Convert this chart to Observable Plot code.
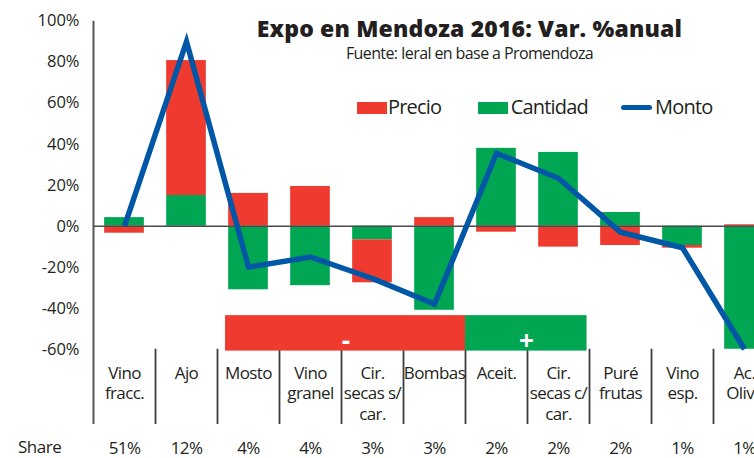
<!DOCTYPE html>
<html><head><meta charset="utf-8">
<script src="https://cdn.jsdelivr.net/npm/d3@7"></script>
<script src="https://cdn.jsdelivr.net/npm/@observablehq/plot@0.6"></script>
<style>
html,body{margin:0;padding:0;background:#fff;overflow:hidden;}
#wrap{position:relative;width:754px;height:458px;overflow:hidden;font-family:"Open Sans",sans-serif;color:#231f20;}
#wrap svg{overflow:hidden;position:absolute;left:0;top:0;}
#wrap svg text{letter-spacing:-0.6px;}
#wrap svg g[aria-label="y-axis tick label"] text{letter-spacing:0;}
.ov{position:absolute;line-height:1;white-space:nowrap;}
.sw{position:absolute;}
</style></head><body>
<div id="wrap"></div>
<script>
// ---- data ----
const categories = ["Vino\nfracc.", "Ajo", "Mosto", "Vino\ngranel", "Cir.\nsecas s/\ncar.", "Bombas", "Aceit.", "Cir.\nsecas c/\ncar.", "Puré\nfrutas", "Vino\nesp.", "Ac.\nOliva"];
const cantidad = [4.2, 15, -31, -29, -6.6, -41, 38, 36, 6.7, -9.4, -60];
const precio   = [-3.4, 65.8, 16, 19.4, -21, 4.2, -2.9, -10.2, -9.4, -1.3, 0.7];
const monto    = [0, 90, -20, -15, -25.5, -38, 35.6, 23.4, -2.9, -10.5, -60];
const share    = ["51%", "12%", "4%", "4%", "3%", "3%", "2%", "2%", "2%", "1%", "1%"];
const yTicks   = [-60, -40, -20, 0, 20, 40, 60, 80, 100];
const signFrom = ["Mosto", "Aceit."];
const signTo   = ["Bombas", "Cir.\nsecas c/\ncar."];
const signText = ["-", "+"];

const RED = "#EF3A2F", GREEN = "#00A651", BLUE = "#0057A6";

// stacked segments: cantidad first, then precio
const rows = [];
categories.forEach((c, i) => {
  let pos = 0, neg = 0;
  [["Cantidad", cantidad[i]], ["Precio", precio[i]]].forEach(([s, v]) => {
    let y1, y2;
    if (v >= 0) { y1 = pos; y2 = pos + v; pos = y2; } else { y1 = neg; y2 = neg + v; neg = y2; }
    rows.push({i, s, y1, y2});
  });
});
const boxes = signText.map((t, k) => ({
  x1: categories.indexOf(signFrom[k]) - (k === 0 ? 0.37 : 0.5),
  x2: categories.indexOf(signTo[k]) + (k === 0 ? 0.5 : 0.46),
  fill: k === 0 ? RED : GREEN,
  text: t
}));
const idx = categories.map((d, i) => i);
const HALF = 0.32;

const plot = Plot.plot({
  width: 754, height: 458,
  marginTop: 20.7, marginBottom: 34, marginLeft: 93, marginRight: 0,
  x: {domain: [-0.5, 10.5], range: [93, 775], axis: null},
  y: {domain: [-96.7, 100], axis: null},
  style: {fontFamily: "Open Sans", fontSize: "16.5px", color: "#231f20", background: "white"},
  marks: [
    Plot.rectY(rows.filter(d => d.s === "Cantidad"), {x1: d => d.i - HALF, x2: d => d.i + HALF, y1: "y1", y2: "y2", fill: GREEN}),
    Plot.rectY(rows.filter(d => d.s === "Precio"), {x1: d => d.i - HALF, x2: d => d.i + HALF, y1: "y1", y2: "y2", fill: RED}),
    Plot.ruleX(idx, {x: d => d + 0.5, y1: -60, y2: -96.7, stroke: "#3c3c3c", strokeWidth: 1.8}),
    Plot.ruleX([-0.5], {x: d => d, y1: -96.7, y2: 100, stroke: "#555", strokeWidth: 2}),
    Plot.rect(boxes, {x1: "x1", x2: "x2", y1: -43.6, y2: -60.9, fill: d => d.fill}),
    Plot.text(boxes, {x: d => (d.x1 + d.x2) / 2, y: -56.5, text: "text", fill: "white", fontSize: 26, fontWeight: "bold"}),
    Plot.ruleY([0], {x1: -0.5, x2: 10.5, stroke: "#4a4a4a", strokeWidth: 1.5}),
    Plot.lineY(monto, {x: (d, i) => i, y: d => d, stroke: BLUE, strokeWidth: 5.5, strokeLinecap: "butt", strokeLinejoin: "miter", strokeMiterlimit: 4}),
    Plot.axisY({ticks: yTicks, tickSize: 0, tickPadding: 14, tickFormat: d => d + "%", fontSize: 16.5, anchor: "left"}),
    Plot.text(categories, {x: (d, i) => i, y: -60, text: d => d, lineAnchor: "top", dy: 15, lineHeight: 1.2, fontSize: 17}),
    Plot.text(share, {x: (d, i) => i, y: -60, text: d => d, lineAnchor: "top", dy: 92.5, fontSize: 17})
  ]
});
const wrap = document.getElementById("wrap");
wrap.appendChild(plot);

// overlays: title, subtitle, legend, row label
function ov(html, css) {
  const d = document.createElement("div");
  d.className = "ov"; d.innerHTML = html; d.style.cssText = css;
  wrap.appendChild(d); return d;
}
ov("Expo en Mendoza 2016: Var. %anual", "left:469.5px;top:16.9px;transform:translateX(-50%);font-size:23px;font-weight:800;letter-spacing:0.15px;");
ov("Fuente: Ieral en base a Promendoza", "left:469.5px;top:45.1px;transform:translateX(-50%);font-size:16px;letter-spacing:-0.6px;");
function sw(css) { const d = document.createElement("div"); d.className = "sw"; d.style.cssText = css; wrap.appendChild(d); }
sw(`left:357px;top:102px;width:30px;height:12px;background:${RED};`);
ov("Precio", "left:388px;top:97.2px;font-size:20px;letter-spacing:-0.8px;");
sw(`left:478px;top:102px;width:30px;height:12px;background:${GREEN};`);
ov("Cantidad", "left:510.7px;top:97.2px;font-size:20px;letter-spacing:-0.8px;");
sw(`left:621px;top:105px;width:31px;height:5px;border-radius:2.5px;background:${BLUE};`);
ov("Monto", "left:655px;top:97.2px;font-size:20px;letter-spacing:-0.8px;");
ov("Share", "left:18px;top:438.2px;font-size:17px;letter-spacing:-0.5px;");
</script>
</body></html>
